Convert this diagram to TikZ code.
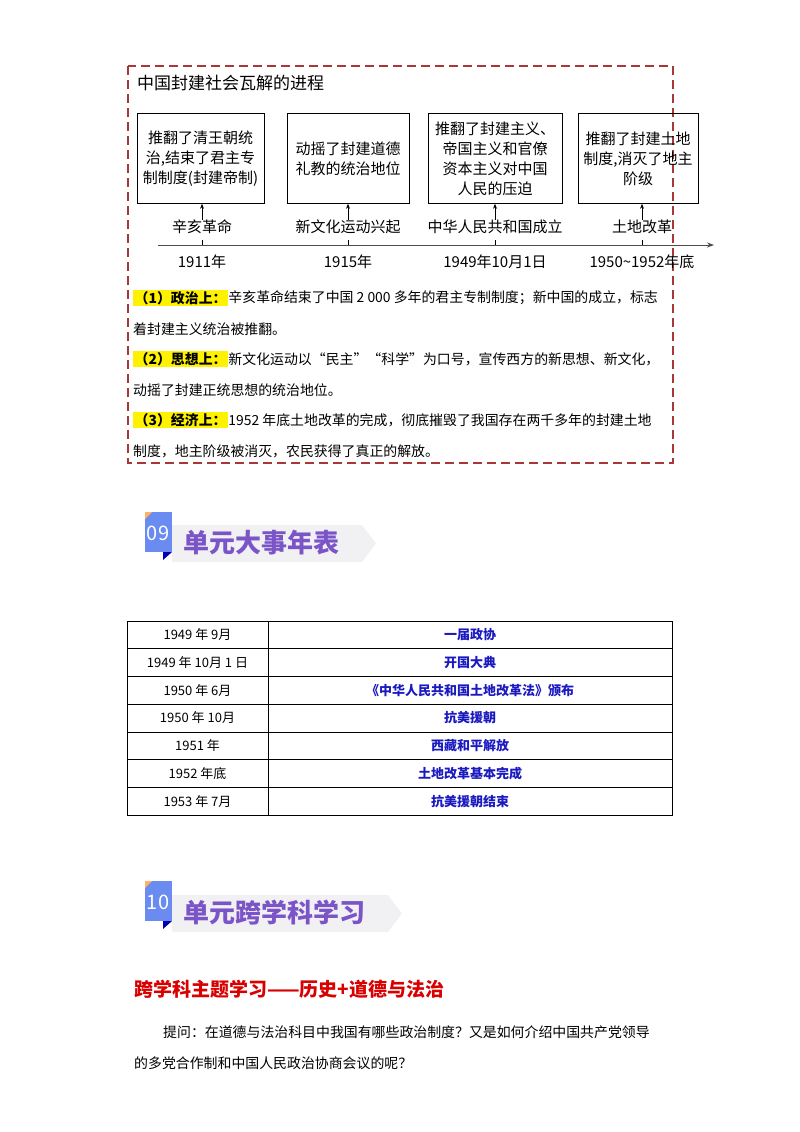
\documentclass[tikz,border=0pt]{standalone}
\usepackage{fontspec}
\setmainfont{Noto Sans CJK SC}
\usetikzlibrary{arrows.meta}
\definecolor{frame}{HTML}{A83838}
\definecolor{hl}{HTML}{FFF200}
\definecolor{purp}{HTML}{7B55C8}
\definecolor{tblue}{HTML}{1A1AC0}
\definecolor{hblue}{HTML}{6A8CF0}
\definecolor{banner}{HTML}{F1F1F3}
\tikzset{
 evbox/.style={draw,line width=0.6pt,minimum width=#1,minimum height=90pt,align=center,font=\fontsize{15}{20}\selectfont,inner sep=1pt},
 lbl/.style={font=\fontsize{15}{17}\selectfont,inner sep=0pt},
 body/.style={anchor=west,font=\fontsize{13.9}{15}\selectfont,inner sep=0pt},
 hlt/.style={anchor=west,fill=hl,font=\bfseries\fontsize{13.9}{15}\selectfont,inner sep=1.5pt},
 cell/.style={font=\fontsize{13}{14}\selectfont,inner sep=0pt},
 bcell/.style={font=\bfseries\fontsize{13}{14}\selectfont,text=tblue,inner sep=0pt},
 head/.style={anchor=west,font=\bfseries\fontsize{26}{28}\selectfont,text=purp,inner sep=0pt},
}
\begin{document}
\begin{tikzpicture}[x=1pt,y=-1pt]
\useasboundingbox (0,0) rectangle (800,1132);
% frame
\draw[frame,line width=2pt,dash pattern=on 9pt off 5pt] (128,66) rectangle (673,463);
\node[anchor=west,font=\fontsize{17}{18}\selectfont,inner sep=0pt] (title) at (137,83) {中国封建社会瓦解的进程};
% boxes
\node[evbox=127pt] (b1) at (200.5,158.5) {推翻了清王朝统\\治,结束了君主专\\制制度(封建帝制)};
\node[evbox=122pt] (b2) at (348,158.5) {动摇了封建道德\\礼教的统治地位};
\node[evbox=134pt] (b3) at (495,158.5) {推翻了封建主义、\\帝国主义和官僚\\资本主义对中国\\人民的压迫};
\node[evbox=120pt] (b4) at (638,158.5) {推翻了封建土地\\制度,消灭了地主\\阶级};
\node[lbl] (e1) at (202,227) {辛亥革命};
\node[lbl] (e2) at (348,227) {新文化运动兴起};
\node[lbl] (e3) at (495,227) {中华人民共和国成立};
\node[lbl] (e4) at (642,227) {土地改革};
\foreach \i/\x in {1/202,2/348,3/495,4/642}{
  \draw[-{Stealth[length=5pt,width=4pt]},line width=0.7pt] (e\i.north) -- (e\i.north |- b\i.south);
  \draw[line width=0.7pt] (\x,240) -- (\x,245);
}
\coordinate (axs) at (158,245);
\coordinate (axe) at (714,245);
\draw[-{Stealth[length=7pt,width=5pt]},line width=0.8pt,black!70] (axs) -- (axe);
\node[lbl] (y1) at (202,262) {1911年};
\node[lbl] (y2) at (348,262) {1915年};
\node[lbl] (y3) at (495,262) {1949年10月1日};
\node[lbl] (y4) at (642,262) {1950\textasciitilde1952年底};
% paragraphs
\node[hlt] (h1) at (133,298) {（1）政治上：};
\node[body] (t1) at (h1.east) {辛亥革命结束了中国 2 000 多年的君主专制制度；新中国的成立，标志};
\node[body] (t2) at (133,329) {着封建主义统治被推翻。};
\node[hlt] (h2) at (133,359) {（2）思想上：};
\node[body] (t3) at (h2.east) {新文化运动以“民主”“科学”为口号，宣传西方的新思想、新文化，};
\node[body] (t4) at (133,390) {动摇了封建正统思想的统治地位。};
\node[hlt] (h3) at (133,420) {（3）经济上：};
\node[body] (t5) at (h3.east) {1952 年底土地改革的完成，彻底摧毁了我国存在两千多年的封建土地};
\node[body] (t6) at (133,451) {制度，地主阶级被消灭，农民获得了真正的解放。};
% header 09
\fill[banner] (172,525) -- (362,525) -- (376,543.5) -- (362,562) -- (172,562) -- cycle;
\fill[hblue] (145,512) rectangle (172,552);
\fill[orange!60] (145,512) -- (152,512) -- (145,519) -- cycle;
\fill[blue!70!black] (163,552) -- (172,552) -- (163,560) -- cycle;
\node[font=\fontsize{20}{22}\selectfont,text=white,inner sep=0pt] (n9) at (158,533) {09};
\node[head] (hd9) at (183,543) {单元大事年表};
% table
\def\rh{27.7}
\draw[line width=0.6pt] (127,621) rectangle (672,815);
\draw[line width=0.6pt] (268,621) -- (268,815);
\foreach \k in {1,...,6}{\draw[line width=0.6pt] (127,621+\k*\rh) -- (672,621+\k*\rh);}
\foreach \k/\ta/\tb in {0/1949 年 9月/一届政协,1/1949 年 10月 1 日/开国大典,2/1950 年 6月/《中华人民共和国土地改革法》颁布,3/1950 年 10月/抗美援朝,4/1951 年/西藏和平解放,5/1952 年底/土地改革基本完成,6/1953 年 7月/抗美援朝结束}{
  \node[cell] (l\k) at (197.5,621+\k*\rh+\rh/2) {\ta};
  \node[bcell] (r\k) at (470,621+\k*\rh+\rh/2) {\tb};
}
% header 10
\fill[banner] (172,895) -- (388,895) -- (402,913.5) -- (388,932) -- (172,932) -- cycle;
\fill[hblue] (145,881) rectangle (172,921);
\fill[orange!60] (145,881) -- (152,881) -- (145,888) -- cycle;
\fill[blue!70!black] (163,921) -- (172,921) -- (163,929) -- cycle;
\node[font=\fontsize{20}{22}\selectfont,text=white,inner sep=0pt] (n10) at (158,902) {10};
\node[head] (hd10) at (183,913) {单元跨学科学习};
\node[anchor=west,font=\bfseries\fontsize{19}{20}\selectfont,text=red!85!black,inner sep=0pt] (sub) at (134,989) {跨学科主题学习——历史+道德与法治};
\node[body] (q1) at (163,1032) {提问：在道德与法治科目中我国有哪些政治制度？又是如何介绍中国共产党领导};
\node[body] (q2) at (134,1063) {的多党合作制和中国人民政治协商会议的呢？};
\end{tikzpicture}
\end{document}
